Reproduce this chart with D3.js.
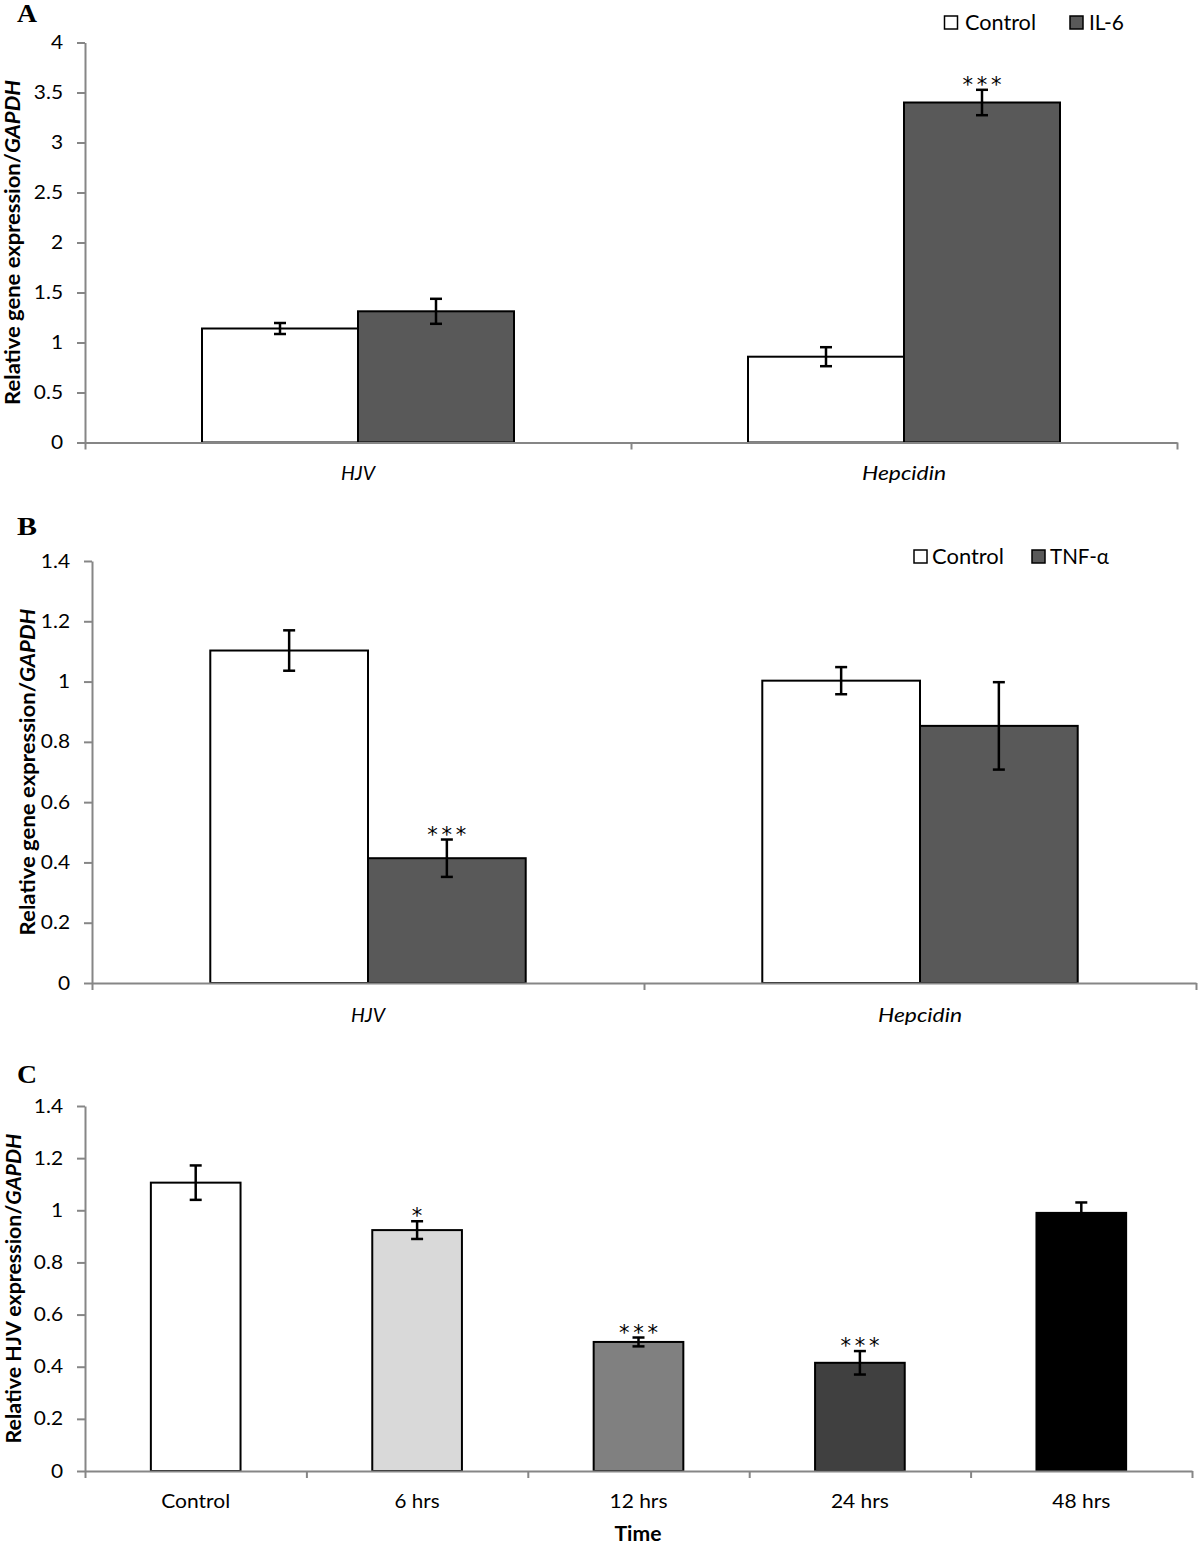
<!DOCTYPE html>
<html><head><meta charset="utf-8">
<script src="https://cdn.jsdelivr.net/npm/d3@7"></script>
<style>
body{margin:0;background:#fff}
svg{display:block}
text{fill:#000}
</style>
</head><body>
<svg id="chart" width="1200" height="1547" font-family="Lato, 'Open Sans', sans-serif"></svg>
<script>
// ---------- Panel A data ----------
const aCategories = ["HJV", "Hepcidin"];
const aSeries = ["Control", "IL-6"];
const aControl = [1.14, 0.858];
const aControlErr = [0.055, 0.095];
const aTreated = [1.312, 3.40];
const aTreatedErr = [0.125, 0.127];
const aTreatedSig = ["", "***"];
const aTicks = [0, 0.5, 1, 1.5, 2, 2.5, 3, 3.5, 4];

// ---------- Panel B data ----------
const bCategories = ["HJV", "Hepcidin"];
const bSeries = ["Control", "TNF-α"];
const bControl = [1.103, 1.003];
const bControlErr = [0.067, 0.045];
const bTreated = [0.414, 0.853];
const bTreatedErr = [0.062, 0.145];
const bTreatedSig = ["***", ""];
const bTicks = [0, 0.2, 0.4, 0.6, 0.8, 1, 1.2, 1.4];

// ---------- Panel C data ----------
const cCategories = ["Control", "6 hrs", "12 hrs", "24 hrs", "48 hrs"];
const cValues = [1.106, 0.924, 0.495, 0.415, 0.99];
const cErr = [0.066, 0.034, 0.017, 0.045, 0.04];
const cSig = ["", "*", "***", "***", ""];
const cTicks = [0, 0.2, 0.4, 0.6, 0.8, 1, 1.2, 1.4];

const svg = d3.select("#chart");
const AXIS = "#868686";
const SANS = "Lato, 'Open Sans', sans-serif";

function styleAxis(g) {
  g.selectAll("path.domain").attr("stroke", AXIS).attr("stroke-width", 2);
  g.selectAll(".tick line").attr("stroke", AXIS).attr("stroke-width", 2);
}

function stretchText(sel, k) {
  sel.each(function () {
    const l = this.getComputedTextLength();
    d3.select(this).attr("textLength", l * k).attr("lengthAdjust", "spacingAndGlyphs");
  });
}

function yAxis(g, y, x0, ticks) {
  const ax = g.append("g").attr("transform", `translate(${x0},0)`)
    .call(d3.axisLeft(y).tickValues(ticks).tickSize(8).tickSizeOuter(0).tickPadding(14).tickFormat(d => String(d)));
  styleAxis(ax);
  ax.attr("font-family", SANS).attr("font-size", 19);
  ax.selectAll("text").attr("fill", "#000");
  stretchText(ax.selectAll("text"), 1.1);
}

function xAxis(g, n, x0, x1, yb) {
  const xl = d3.scaleLinear().domain([0, n]).range([x0, x1]);
  const ax = g.append("g").attr("transform", `translate(0,${yb})`)
    .call(d3.axisBottom(xl).tickValues(d3.range(n + 1)).tickSize(7).tickSizeOuter(0).tickFormat(""));
  styleAxis(ax);
}

function yTitle(g, cx, cy, len, text1, text2) {
  const t = g.append("text").attr("font-weight", "bold").attr("font-size", 21);
  t.append("tspan").text(text1);
  t.append("tspan").attr("font-style", "italic").text(text2);
  const w = t.node().getComputedTextLength();
  t.attr("text-anchor", "middle")
   .attr("transform", `translate(${cx},${cy}) rotate(-90) scale(${len / w},1)`);
}

function panelLetter(g, x, y, s) {
  g.append("text").attr("x", x).attr("y", y).attr("font-family", "'Liberation Serif', 'DejaVu Serif', serif")
    .attr("font-weight", "bold").attr("font-size", 25).attr("textLength", 20)
    .attr("lengthAdjust", "spacingAndGlyphs").text(s);
}

function errorBar(g, cx, yTop, yBot) {
  g.append("line").attr("x1", cx).attr("x2", cx).attr("y1", yTop).attr("y2", yBot)
    .attr("stroke", "#000").attr("stroke-width", 2.5);
  [yTop, yBot].forEach(yy => g.append("line").attr("x1", cx - 6).attr("x2", cx + 6)
    .attr("y1", yy).attr("y2", yy).attr("stroke", "#000").attr("stroke-width", 2.5));
}

function sigLabel(g, cx, yTop, s) {
  if (!s) return;
  const t = g.append("text").attr("x", cx).attr("y", yTop + 2).attr("text-anchor", "middle")
    .attr("font-family", "'DejaVu Sans', sans-serif")
    .attr("font-size", 21).attr("fill", "#404040").text(s);
  if (s.length === 3) t.attr("textLength", 39).attr("lengthAdjust", "spacing");
}

function groupedPanel(cfg, cats, series, ctrl, ctrlErr, trt, trtErr, sig, ticks) {
  const g = svg.append("g");
  const x = d3.scaleBand().domain(cats).range([cfg.x0, cfg.x1]).padding(0);
  const xs = d3.scaleBand().domain(series).range([0, x.bandwidth()]).paddingInner(0).paddingOuter(0.75);
  const y = d3.scaleLinear().domain([0, ticks[ticks.length - 1]]).range([cfg.yB, cfg.yT]);
  const fills = ["#ffffff", "#595959"];
  const vals = [ctrl, trt], errs = [ctrlErr, trtErr], sigs = [cats.map(() => ""), sig];

  yAxis(g, y, cfg.x0, ticks);

  const rows = [];
  cats.forEach((c, i) => series.forEach((s, j) => rows.push({ c, s, j, v: vals[j][i], e: errs[j][i], sig: sigs[j][i] })));

  g.selectAll("rect.bar").data(rows).join("rect").attr("class", "bar")
    .attr("x", d => x(d.c) + xs(d.s)).attr("width", xs.bandwidth())
    .attr("y", d => y(d.v)).attr("height", d => y(0) - y(d.v))
    .attr("fill", d => fills[d.j]).attr("stroke", "#000").attr("stroke-width", 2);

  rows.forEach(d => {
    const cx = x(d.c) + xs(d.s) + xs.bandwidth() / 2;
    errorBar(g, cx, y(d.v + d.e), y(d.v - d.e));
    sigLabel(g, cx, y(d.v + d.e), d.sig);
  });

  xAxis(g, cats.length, cfg.x0, cfg.x1, cfg.yB);

  cats.forEach((c, i) => {
    g.append("text").attr("x", x(c) + x.bandwidth() / 2).attr("y", cfg.labelY)
      .attr("text-anchor", "middle").attr("font-style", "italic").attr("font-size", 20)
      .attr("textLength", cfg.catLens[i]).attr("lengthAdjust", "spacingAndGlyphs").text(c);
  });

  // legend
  series.forEach((s, j) => {
    const L = cfg.legend[j];
    g.append("rect").attr("x", L.bx).attr("y", cfg.legY - 14).attr("width", 13).attr("height", 13)
      .attr("fill", fills[j]).attr("stroke", "#000").attr("stroke-width", 1.5);
    g.append("text").attr("x", L.tx).attr("y", cfg.legY).attr("font-size", 21)
      .attr("textLength", L.len).attr("lengthAdjust", "spacingAndGlyphs").text(s);
  });

  yTitle(g, cfg.titleX, (cfg.yB + cfg.yT) / 2, cfg.titleLen, "Relative gene expression/", "GAPDH");
  panelLetter(g, 17, cfg.letterY, cfg.letter);
}

groupedPanel({ x0: 85, x1: 1177, yB: 442.5, yT: 42.5, labelY: 480, catLens: [34, 84],
  legY: 30, legend: [{ bx: 944.5, tx: 965, len: 71 }, { bx: 1070, tx: 1089, len: 35 }],
  titleX: 20, titleLen: 325, letter: "A", letterY: 22 },
  aCategories, aSeries, aControl, aControlErr, aTreated, aTreatedErr, aTreatedSig, aTicks);

groupedPanel({ x0: 92, x1: 1196, yB: 983, yT: 561, labelY: 1022, catLens: [34, 84],
  legY: 564, legend: [{ bx: 914, tx: 932, len: 72 }, { bx: 1032, tx: 1050, len: 59 }],
  titleX: 35, titleLen: 327, letter: "B", letterY: 535 },
  bCategories, bSeries, bControl, bControlErr, bTreated, bTreatedErr, bTreatedSig, bTicks);

// ---------- Panel C ----------
(function () {
  const g = svg.append("g");
  const x0 = 85, x1 = 1192, yB = 1471, yT = 1106;
  const x = d3.scaleBand().domain(cCategories).range([x0, x1]).paddingInner(0.595).paddingOuter(0.2975);
  const y = d3.scaleLinear().domain([0, cTicks[cTicks.length - 1]]).range([yB, yT]);
  const fills = ["#ffffff", "#d9d9d9", "#808080", "#404040", "#000000"];
  const labelLens = [69, 45, 58, 58, 58];

  yAxis(g, y, x0, cTicks);

  g.selectAll("rect.bar").data(cCategories).join("rect").attr("class", "bar")
    .attr("x", d => x(d)).attr("width", x.bandwidth())
    .attr("y", (d, i) => y(cValues[i])).attr("height", (d, i) => yB - y(cValues[i]))
    .attr("fill", (d, i) => fills[i]).attr("stroke", "#000").attr("stroke-width", 2);

  cCategories.forEach((c, i) => {
    const cx = x(c) + x.bandwidth() / 2;
    errorBar(g, cx, y(cValues[i] + cErr[i]), y(cValues[i] - cErr[i]));
    sigLabel(g, cx, y(cValues[i] + cErr[i]), cSig[i]);
  });

  xAxis(g, cCategories.length, x0, x1, yB);

  cCategories.forEach((c, i) => {
    g.append("text").attr("x", x(c) + x.bandwidth() / 2).attr("y", 1508)
      .attr("text-anchor", "middle").attr("font-size", 20)
      .attr("textLength", labelLens[i]).attr("lengthAdjust", "spacingAndGlyphs").text(c);
  });
  g.append("text").attr("x", 638).attr("y", 1541).attr("text-anchor", "middle")
    .attr("font-weight", "bold").attr("font-size", 20).attr("textLength", 47)
    .attr("lengthAdjust", "spacingAndGlyphs").text("Time");

  yTitle(g, 21, (yB + yT) / 2, 310, "Relative HJV expression/", "GAPDH");
  panelLetter(g, 17, 1083, "C");
})();
</script>
</body></html>
